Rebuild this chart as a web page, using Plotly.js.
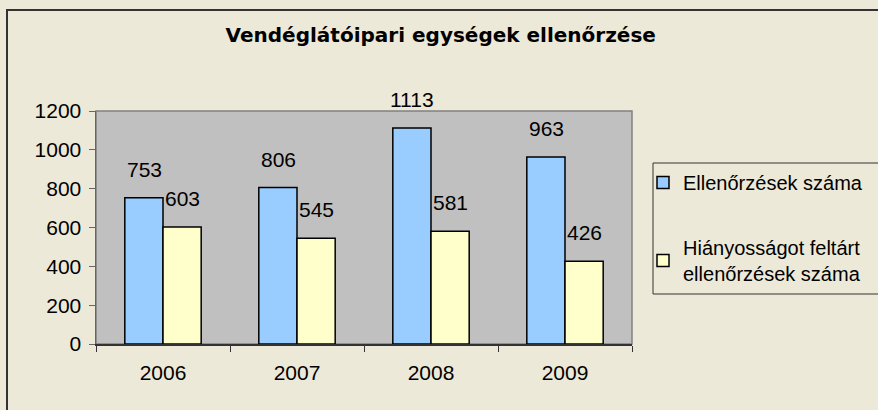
<!DOCTYPE html>
<html>
<head>
<meta charset="utf-8">
<script src="https://cdn.plot.ly/plotly-3.0.1.min.js"></script>
<style>html,body{margin:0;padding:0;background:#ECE9D8;}</style>
</head>
<body>
<div id="chart" style="width:878px;height:410px;"></div>
<script>
const years = ['2006', '2007', '2008', '2009'];
const inspections = [753, 806, 1113, 963];
const withDeficiencies = [603, 545, 581, 426];
const seriesNames = ['Ellenőrzések száma', 'Hiányosságot feltárt<br>ellenőrzések száma'];
const yTicks = [0, 200, 400, 600, 800, 1000, 1200];

const FONT = 'Liberation Sans, Arial, sans-serif';
const TITLE_FONT = 'DejaVu Sans, Liberation Sans, sans-serif';

const traces = [
  {type: 'bar', x: years, y: inspections, name: seriesNames[0], legendgroup: 'a',
   marker: {color: '#99CCFF', line: {color: '#000', width: 1.5}}},
  {type: 'bar', x: years, y: withDeficiencies, name: seriesNames[1], legendgroup: 'b',
   marker: {color: '#FFFFCC', line: {color: '#000', width: 1.5}}}
];

const annotations = [];
years.forEach((yr, i) => {
  annotations.push({x: i, y: inspections[i], xref: 'x', yref: 'y', text: String(inspections[i]),
    showarrow: false, yanchor: 'bottom', xshift: -19, yshift: 15, font: {size: 21, color: '#000', family: FONT}});
  annotations.push({x: i, y: withDeficiencies[i], xref: 'x', yref: 'y', text: String(withDeficiencies[i]),
    showarrow: false, yanchor: 'bottom', xshift: 19, yshift: 15, font: {size: 21, color: '#000', family: FONT}});
});

const layout = {
  width: 878, height: 410,
  margin: {l: 96, r: 246, t: 111, b: 66, autoexpand: false},
  paper_bgcolor: '#ECE9D8',
  plot_bgcolor: '#C0C0C0',
  font: {family: FONT, size: 21, color: '#000'},
  title: {text: '<b>Vendéglátóipari egységek ellenőrzése</b>', font: {size: 20, family: TITLE_FONT, color: '#000'},
          x: 0.502, xref: 'container', xanchor: 'center', y: 0.915, yref: 'container', yanchor: 'middle'},
  barmode: 'group',
  bargap: 0.43,
  bargroupgap: 0,
  xaxis: {type: 'category', range: [-0.5, 3.5], showgrid: false, showline: true, linecolor: '#333', linewidth: 1.5,
          ticks: 'outside', tickson: 'boundaries', ticklen: 6, tickcolor: '#333', ticklabelstandoff: 9,
          tickfont: {size: 21}, fixedrange: true},
  yaxis: {range: [0, 1200], tickvals: yTicks, showgrid: false, showline: true, linecolor: '#666', linewidth: 1.5,
          ticks: 'outside', ticklen: 6, tickcolor: '#666', ticklabelstandoff: 3, zeroline: false,
          tickfont: {size: 21}},
  showlegend: true,
  legend: {x: (643 - 96) / 536, xanchor: 'left', y: 0.777, yanchor: 'top', traceorder: 'grouped', tracegroupgap: 36,
           bgcolor: 'rgba(0,0,0,0)', borderwidth: 0, font: {size: 20, family: FONT},
           itemwidth: 30},
  annotations: annotations,
  shapes: [
    {type: 'rect', xref: 'paper', yref: 'paper', x0: 0, x1: 1, y0: 0, y1: 1,
     line: {color: '#808080', width: 1.5}, fillcolor: 'rgba(0,0,0,0)', layer: 'below'},
    {type: 'rect', xref: 'paper', yref: 'paper', x0: (653 - 96) / 536, x1: (890 - 96) / 536,
     y0: (344 - 294) / 233, y1: (344 - 163) / 233,
     line: {color: '#333', width: 1}, fillcolor: 'rgba(0,0,0,0)', layer: 'above'},
    {type: 'rect', xref: 'paper', yref: 'paper', x0: (7 - 96) / 536, x1: (885 - 96) / 536,
     y0: (344 - 415) / 233, y1: 1 + (111 - 10) / 233,
     line: {color: '#333', width: 2}, fillcolor: 'rgba(0,0,0,0)', layer: 'above'}
  ]
};

Plotly.newPlot('chart', traces, layout, {displayModeBar: false, staticPlot: true});
</script>
</body>
</html>
